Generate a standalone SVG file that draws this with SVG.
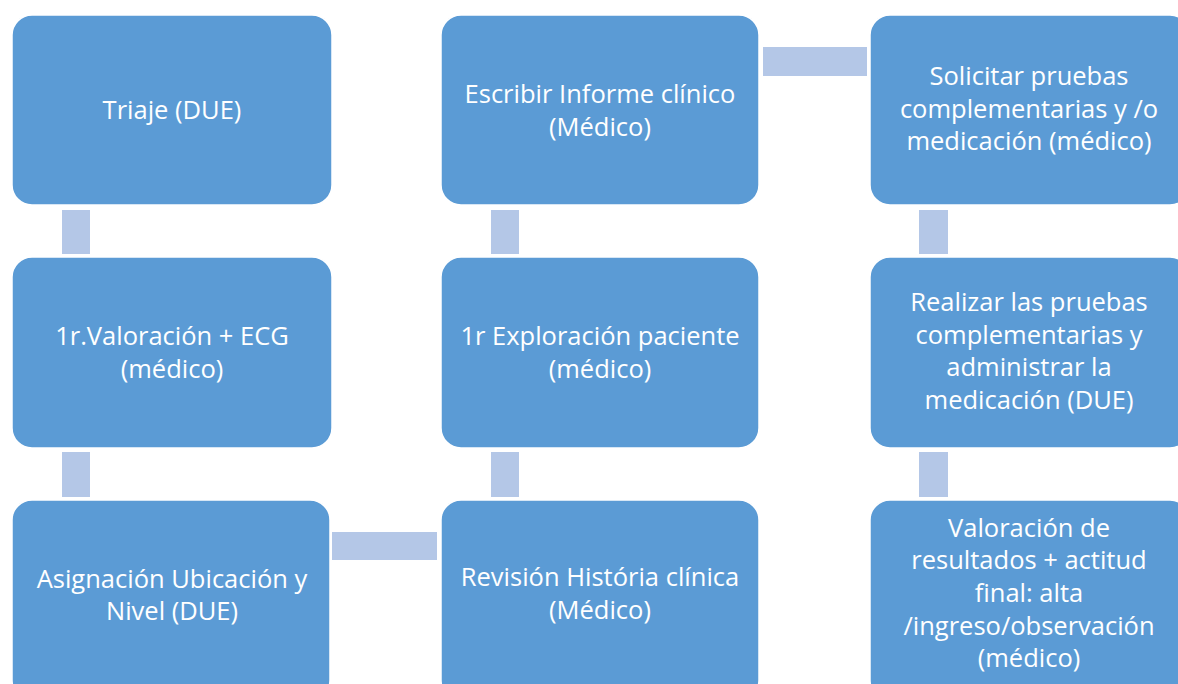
<svg xmlns="http://www.w3.org/2000/svg" width="1178" height="684" viewBox="0 0 1178 684">
<style>
.box{fill:#5B9BD5;stroke:#ffffff;stroke-width:1.5}
.con{fill:#B4C7E7}
text{font-family:"Open Sans","Noto Sans","Liberation Sans",sans-serif;font-size:25.5px;fill:#ffffff;text-anchor:middle}
</style>
<rect width="1178" height="684" fill="#ffffff"/>
<g id="connectors">
<rect class="con" x="62" y="210" width="28" height="44"/>
<rect class="con" x="62" y="452" width="28" height="45"/>
<rect class="con" x="332" y="532" width="105" height="28"/>
<rect class="con" x="491" y="452" width="28" height="45"/>
<rect class="con" x="491" y="210" width="28" height="44"/>
<rect class="con" x="763" y="47" width="104" height="29"/>
<rect class="con" x="919" y="210" width="29" height="44"/>
<rect class="con" x="919" y="452" width="29" height="45"/>
</g>
<g id="n1"><rect class="box" x="12" y="15" width="320" height="190" rx="20"/>
<text x="172" y="119">Triaje (DUE)</text></g>
<g id="n2"><rect class="box" x="12" y="257" width="320" height="191" rx="20"/>
<text x="172" y="345">1r.Valoración + ECG</text><text x="172" y="378">(médico)</text></g>
<g id="n3"><rect class="box" x="12" y="500" width="318" height="200" rx="20"/>
<text x="172" y="588">Asignación Ubicación y</text><text x="172" y="620">Nivel (DUE)</text></g>
<g id="n4"><rect class="box" x="441" y="500" width="318" height="200" rx="20"/>
<text x="600" y="586">Revisión História clínica</text><text x="600" y="619">(Médico)</text></g>
<g id="n5"><rect class="box" x="441" y="257" width="318" height="191" rx="20"/>
<text x="600" y="345">1r Exploración paciente</text><text x="600" y="378">(médico)</text></g>
<g id="n6"><rect class="box" x="441" y="15" width="318" height="190" rx="20"/>
<text x="600" y="103">Escribir Informe clínico</text><text x="600" y="136">(Médico)</text></g>
<g id="n7"><rect class="box" x="870" y="15" width="320" height="190" rx="20"/>
<text x="1029" y="85">Solicitar pruebas</text><text x="1029" y="118">complementarias y /o</text><text x="1029" y="150">medicación (médico)</text></g>
<g id="n8"><rect class="box" x="870" y="257" width="320" height="191" rx="20"/>
<text x="1029" y="311">Realizar las pruebas</text><text x="1029" y="344">complementarias y</text><text x="1029" y="376">administrar la</text><text x="1029" y="409">medicación (DUE)</text></g>
<g id="n9"><rect class="box" x="870" y="500" width="320" height="200" rx="20"/>
<text x="1029" y="537">Valoración de</text><text x="1029" y="569">resultados + actitud</text><text x="1029" y="602">final: alta</text><text x="1029" y="635">/ingreso/observación</text><text x="1029" y="667">(médico)</text></g>
</svg>
